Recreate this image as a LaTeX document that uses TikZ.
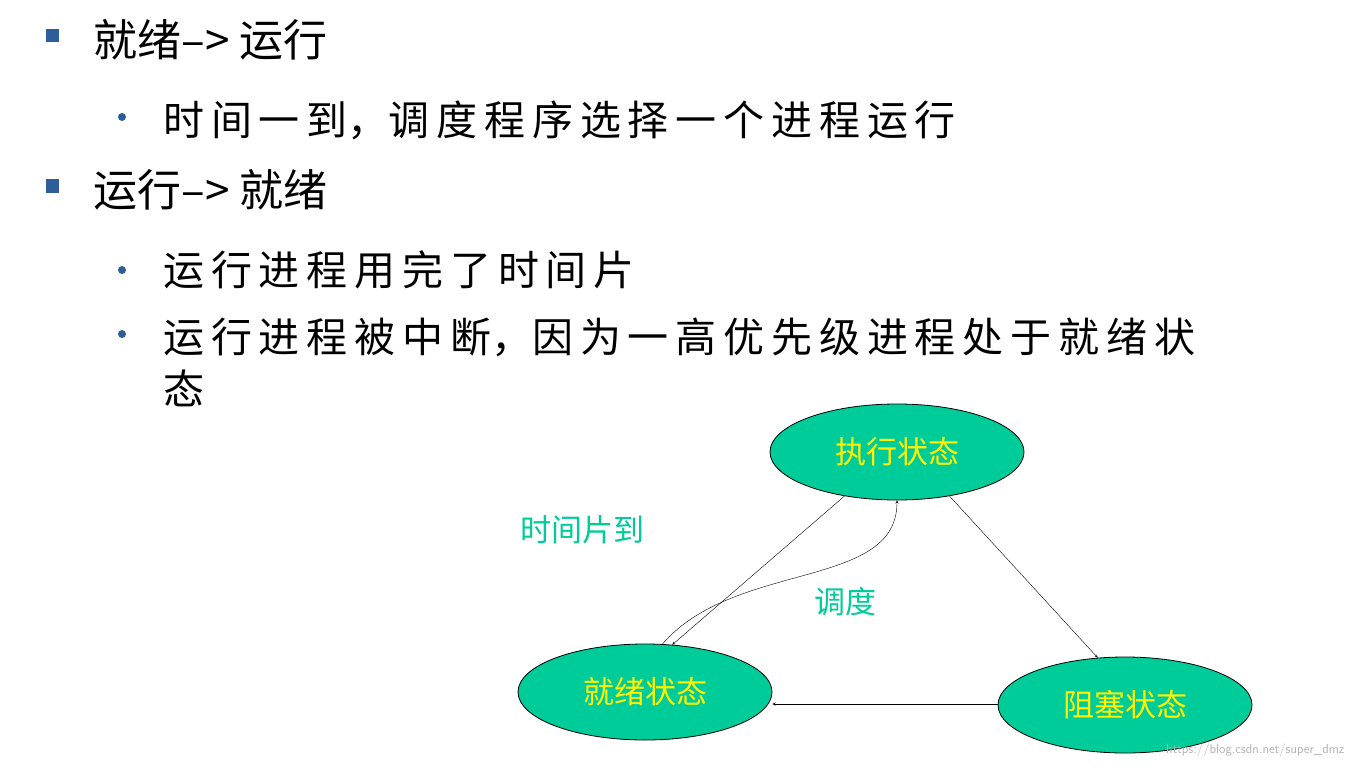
\documentclass[tikz,border=0pt]{standalone}
\usepackage{fontspec}
\setmainfont{Noto Sans CJK SC}
\usetikzlibrary{shapes.geometric, arrows, positioning}
\definecolor{bulletblue}{RGB}{46,94,154}
\definecolor{stategreen}{RGB}{0,204,153}
\tikzstyle{arrow} = [->, >=stealth]
\tikzstyle{state} = [ellipse, draw = black, thick, fill = stategreen, minimum width=254pt, minimum height=96pt, text = yellow, font=\fontsize{31}{31}\selectfont]
\tikzstyle{line} = [anchor=west, font=\fontsize{44}{44}\selectfont]
\tikzstyle{subline} = [anchor=west, font=\fontsize{41}{41}\selectfont, inner sep=0pt]

\begin{document}
\begin{tikzpicture}[x=1pt, y=-1pt]
\useasboundingbox (0,0) rectangle (1356,770);

% bullet list:
\node(sq1)[fill=bulletblue, minimum size=13pt, inner sep=0pt] at (52,36) {};
\node(t1)[line] at (90,40) {就绪--> 运行};
\node(d1)[circle, fill=bulletblue, minimum size=8pt, inner sep=0pt] at (122,117) {};
\node(t2)[subline] at (163,120) {时\,间\,一\,到，调\,度\,程\,序\,选\,择\,一\,个\,进\,程\,运\,行};
\node(sq2)[fill=bulletblue, minimum size=13pt, inner sep=0pt] at (52,186) {};
\node(t3)[line] at (90,190) {运行--> 就绪};
\node(d2)[circle, fill=bulletblue, minimum size=8pt, inner sep=0pt] at (122,270) {};
\node(t4)[subline] at (163,270) {运\,行\,进\,程\,用\,完\,了\,时\,间\,片};
\node(d3)[circle, fill=bulletblue, minimum size=8pt, inner sep=0pt] at (122,334) {};
\node(t5)[subline] at (163,337) {运\,行\,进\,程\,被\,中\,断，因\,为\,一\,高\,优\,先\,级\,进\,程\,处\,于\,就\,绪\,状};
\node(t6)[subline] at (163,388) {态};

% states:
\node(run)[state] at (897,452) {执行状态};
\node(ready)[state] at (645,692) {就绪状态};
\node(block)[state] at (1125,705) {阻塞状态};

% transitions:
\draw[arrow] (run.220) -- (ready.60);
\draw[arrow] (run.320) -- (block.120);
\draw[arrow] (block.west |- 0,704) -- (ready.east |- 0,704);
\draw[arrow] (ready.70) .. controls (735,560) and (897,590) .. (run.270);

\node(slice)[text=stategreen, font=\fontsize{31}{31}\selectfont] at (582,530) {时间片到};
\node(sched)[text=stategreen, font=\fontsize{31}{31}\selectfont] at (845,602) {调度};
\node(mark)[text=gray!60, font=\sffamily\fontsize{13}{13}\selectfont, anchor=east] at (1348,750) {https://blog.csdn.net/super\_dmz};

\end{tikzpicture}
\end{document}
